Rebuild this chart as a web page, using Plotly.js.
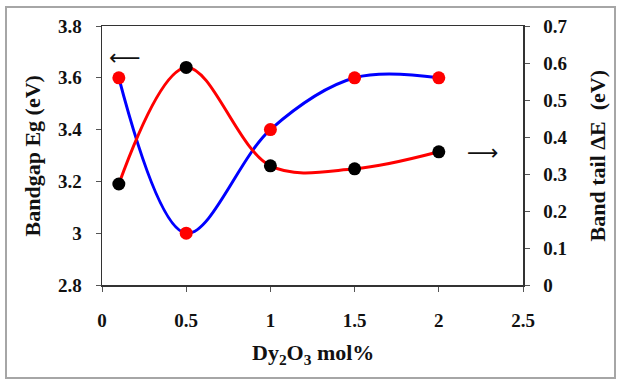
<!DOCTYPE html>
<html>
<head>
<meta charset="utf-8">
<script src="https://cdn.plot.ly/plotly-3.0.1.min.js"></script>
<style>
html,body{margin:0;padding:0;background:#fff;}
#wrap{position:relative;width:619px;height:379px;}
#chart{width:619px;height:379px;}
#frame{position:absolute;left:5px;top:6px;width:607px;height:369px;border:2px solid #a6a6a6;pointer-events:none;}
</style>
</head>
<body>
<div id="wrap"><div id="chart"></div><div id="frame"></div></div>
<script>
// Data
var dyConc = [0.1, 0.5, 1, 1.5, 2];          // Dy2O3 mol%
var bandgapEg = [3.6, 3.0, 3.4, 3.6, 3.6];    // eV (left axis)
var bandTail = [0.273, 0.588, 0.322, 0.314, 0.360]; // eV (right axis)

var xTicks = [0, 0.5, 1, 1.5, 2, 2.5];
var yTicks = [2.8, 3, 3.2, 3.4, 3.6, 3.8];
var y2Ticks = [0, 0.1, 0.2, 0.3, 0.4, 0.5, 0.6, 0.7];

var serif = 'Times New Roman, Liberation Serif, serif';
var tickFont = {family: serif, size: 19, color: '#111', weight: 'bold'};
var titleFont = {family: serif, size: 22, color: '#111', weight: 'bold'};

var traces = [
  {
    x: dyConc, y: bandgapEg, type: 'scatter', mode: 'lines+markers',
    line: {color: '#0000ff', width: 3, shape: 'spline', smoothing: 1},
    marker: {color: '#ff0000', size: 13},
    xaxis: 'x', yaxis: 'y', showlegend: false
  },
  {
    x: dyConc, y: bandTail, type: 'scatter', mode: 'lines+markers',
    line: {color: '#ff0000', width: 3, shape: 'spline', smoothing: 1},
    marker: {color: '#000000', size: 13},
    xaxis: 'x', yaxis: 'y2', showlegend: false
  }
];

var layout = {
  width: 619, height: 379,
  margin: {l: 102, r: 96, t: 26, b: 94, pad: 0},
  paper_bgcolor: '#fff', plot_bgcolor: '#fff',
  font: {family: serif},
  xaxis: {
    range: [0, 2.5], tickvals: xTicks, ticktext: xTicks.map(String),
    showgrid: false, zeroline: false,
    showline: true, linecolor: '#333', linewidth: 1.5, mirror: true,
    ticks: 'outside', ticklen: 5, tickcolor: '#555', tickwidth: 1,
    ticklabelstandoff: 13,
    tickfont: tickFont
  },
  yaxis: {
    range: [2.8, 3.8], tickvals: yTicks, ticktext: yTicks.map(String),
    showgrid: false, zeroline: false,
    showline: true, linecolor: '#333', linewidth: 1.5,
    ticks: 'outside', ticklen: 5, tickcolor: '#555', tickwidth: 1,
    ticklabelstandoff: 10,
    tickfont: tickFont
  },
  yaxis2: {
    range: [0, 0.7], tickvals: y2Ticks, ticktext: y2Ticks.map(String),
    overlaying: 'y', side: 'right',
    showgrid: false, zeroline: false,
    showline: true, linecolor: '#333', linewidth: 1.5,
    ticks: 'outside', ticklen: 5, tickcolor: '#555', tickwidth: 1,
    ticklabelstandoff: 10,
    tickfont: tickFont
  },
  annotations: [
    {text: 'Dy<sub>2</sub>O<sub>3</sub> mol%', xref: 'paper', yref: 'paper',
     x: 0.5, y: -0.265, xanchor: 'center', yanchor: 'middle', showarrow: false,
     font: titleFont},
    {text: 'Bandgap Eg (eV)', xref: 'paper', yref: 'paper',
     x: -0.164, y: 0.50, xanchor: 'center', yanchor: 'middle', textangle: -90, showarrow: false,
     font: titleFont},
    {text: 'Band tail \u0394E  (eV)', xref: 'paper', yref: 'paper',
     x: 1.178, y: 0.50, xanchor: 'center', yanchor: 'middle', textangle: -90, showarrow: false,
     font: titleFont},
    {text: '\u27F5', xref: 'x', yref: 'y', x: 0.137, y: 3.68, showarrow: false,
     xanchor: 'center', yanchor: 'middle',
     font: {family: 'DejaVu Sans', size: 22, color: '#111'}},
    {text: '\u27F6', xref: 'x', yref: 'y', x: 2.26, y: 3.313, showarrow: false,
     xanchor: 'center', yanchor: 'middle',
     font: {family: 'DejaVu Sans', size: 22, color: '#111'}}
  ]
};

Plotly.newPlot('chart', traces, layout, {displayModeBar: false, staticPlot: true});
</script>
</body>
</html>
